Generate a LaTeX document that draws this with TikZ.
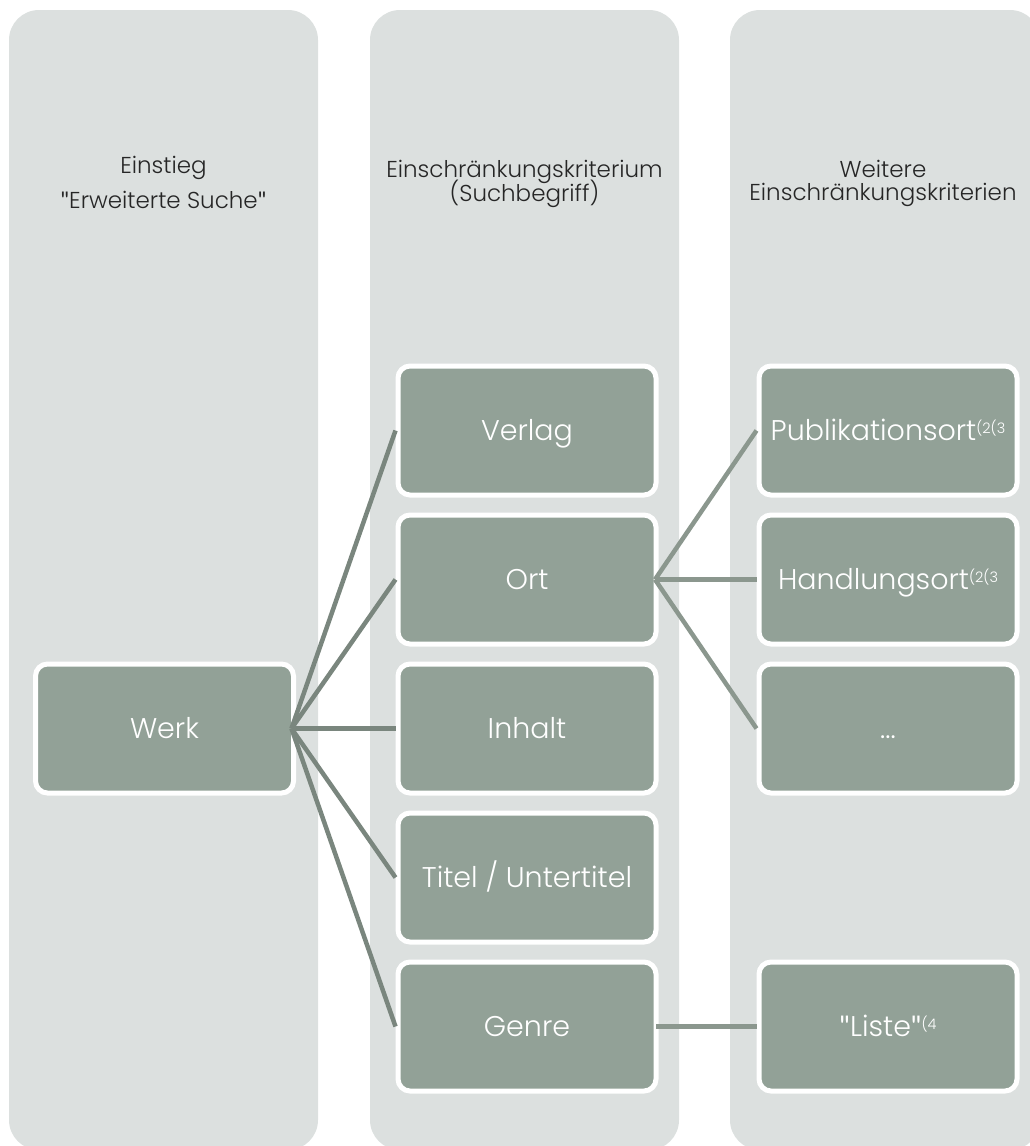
\documentclass[tikz,border=0pt]{standalone}
\usepackage{fontspec}
\setmainfont{Poppins}[UprightFont=* Light]
\newfontfamily\quotefont{Lato}
\definecolor{panelgray}{RGB}{220,224,223}
\definecolor{boxgreen}{RGB}{146,161,151}
\definecolor{linkdark}{RGB}{122,134,126}
\definecolor{linklight}{RGB}{139,151,142}
\definecolor{headgray}{RGB}{38,38,38}
% raised footnote marks after an entry
\newcommand{\notemark}[1]{\raisebox{7.5pt}{\fontsize{14.5}{14.5}\selectfont #1}}
% upright double quote
\newcommand{\dq}{{\quotefont"}}
\begin{document}
\begin{tikzpicture}[x=1pt,y=-1pt,
  colpanel/.style={fill=panelgray, rounded corners=30pt},
  itembox/.style={draw=white, line width=5pt, fill=boxgreen, rounded corners=12pt,
    minimum width=258pt, minimum height=129pt, inner sep=0pt, outer sep=0pt,
    text=white, font=\fontsize{28.5}{33}\selectfont, text height=20pt, text depth=0pt},
  header/.style={anchor=base, text=headgray, font=\fontsize{23}{24}\selectfont, inner sep=0pt},
  link/.style={draw=linkdark, line width=4.5pt},
  sublink/.style={draw=linklight, line width=4.5pt}]

\useasboundingbox (0,0) rectangle (1030,1146);
\clip (0,0) rectangle (1030,1146);

% three background columns
\fill[colpanel] (9,10) rectangle (318,1150);
\fill[colpanel] (370,10) rectangle (679,1150);
\fill[colpanel] (730,10) rectangle (1040,1150);

% column headings, one node per line
\node[header] (h1a) at (163.5,173) {Einstieg};
\node[header] (h1b) at (163.5,208) {\dq Erweiterte Suche\dq};
\node[header] (h2a) at (524.5,177) {Einschränkungskriterium};
\node[header] (h2b) at (524.5,201) {(Suchbegriff)};
\node[header] (h3a) at (883,177) {Weitere};
\node[header] (h3b) at (883,200) {Einschränkungskriterien};

% entry point
\node[itembox] (werk) at (164.5,728.5) {Werk};

% search criteria
\node[itembox] (verlag) at (527,430.5) {Verlag};
\node[itembox] (ort)    at (527,579.5) {Ort};
\node[itembox] (inhalt) at (527,728.5) {Inhalt};
\node[itembox] (titel)  at (527,877.5) {Titel / Untertitel};
\node[itembox] (genre)  at (527,1026.5) {Genre};

% further criteria
\node[itembox] (publ)  at (888,430.5) {Publikationsort\notemark{(2(3}};
\node[itembox] (handl) at (888,579.5) {Handlungsort\notemark{(2(3}};
\node[itembox] (more)  at (888,728.5) {...};
\node[itembox] (liste) at (888,1026.5) {\dq Liste\dq\notemark{(4}};

% connectors
\foreach \t in {verlag,ort,inhalt,titel,genre}
  \draw[link] ([xshift=-2pt]werk.east) -- ([xshift=-2.5pt]\t.west);
\foreach \t in {publ,handl,more}
  \draw[sublink] ([xshift=-1pt]ort.east) -- ([xshift=-2.5pt]\t.west);
\draw[sublink] (genre.east) -- ([xshift=-2.5pt]liste.west);
\end{tikzpicture}
\end{document}
